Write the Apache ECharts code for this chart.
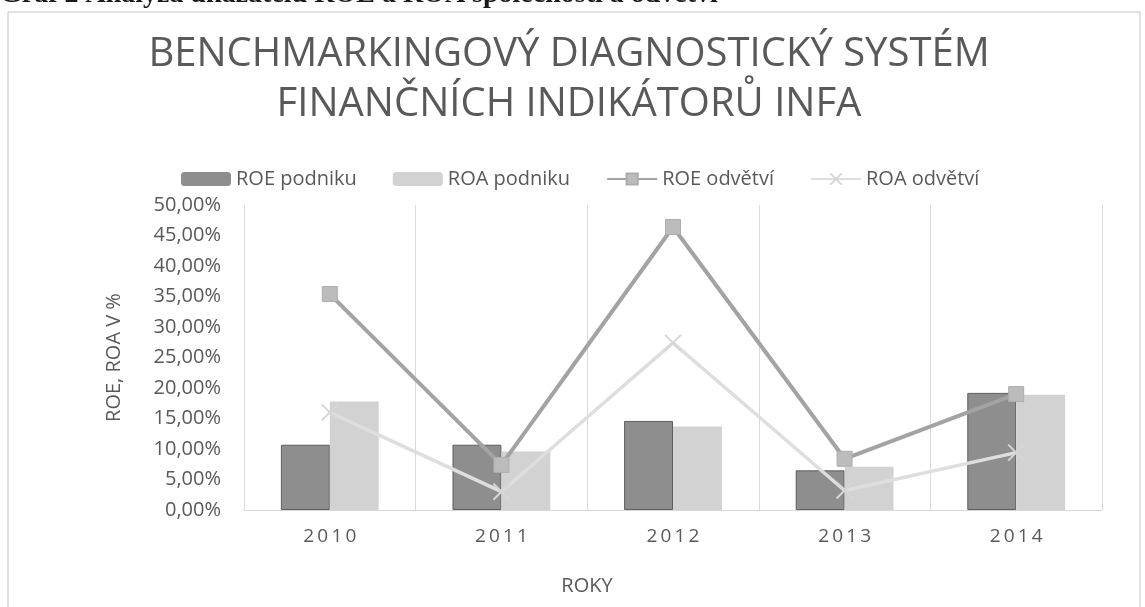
<!DOCTYPE html>
<html>
<head>
<meta charset="utf-8">
<script src="https://cdn.jsdelivr.net/npm/echarts@6/dist/echarts.min.js"></script>
<style>
  html, body { margin: 0; padding: 0; background: #fff; }
  #chart { width: 1145px; height: 607px; }
</style>
</head>
<body>
<div id="chart"></div>
<script>
// data (percent)
var years = ['2010', '2011', '2012', '2013', '2014'];
var roePodniku = [10.7, 10.7, 14.6, 6.5, 19.2];
var roaPodniku = [17.8, 9.6, 13.7, 7.1, 18.9];
var roeOdvetvi = [35.4, 7.4, 46.4, 8.4, 19.0];
var roaOdvetvi = [16.0, 3.0, 27.4, 3.2, 9.4];
var yTicks = { min: 0, max: 50, step: 5 };

var font = 'Open Sans';
var textGray = '#595959';
var gridGray = '#d9d9d9';

var chart = echarts.init(document.getElementById('chart'));

chart.setOption({
  backgroundColor: '#fff',
  animation: false,
  title: {
    text: 'BENCHMARKINGOVÝ DIAGNOSTICKÝ SYSTÉM\nFINANČNÍCH INDIKÁTORŮ INFA',
    left: 564,
    top: 25,
    textAlign: 'center',
    textStyle: {
      fontFamily: font,
      fontSize: 40,
      fontWeight: 'normal',
      color: textGray,
      lineHeight: 50
    }
  },
  legend: {
    top: 164,
    left: 176,
    itemGap: 36,
    itemWidth: 50,
    itemHeight: 14,
    textStyle: { fontFamily: font, fontSize: 20, color: textGray },
    data: [
      { name: 'ROE podniku', itemStyle: { borderWidth: 0 } },
      'ROA podniku',
      'ROE odvětví',
      'ROA odvětví'
    ]
  },
  grid: { left: 244, right: 43, top: 205, bottom: 97 },
  xAxis: {
    type: 'category',
    data: years,
    boundaryGap: true,
    axisTick: { show: false },
    axisLine: { lineStyle: { color: gridGray, width: 1 } },
    splitLine: { show: true, lineStyle: { color: gridGray, width: 1 } },
    axisLabel: {
      margin: 17,
      fontFamily: font,
      fontSize: 19,
      color: textGray,
      formatter: function (v) { return v.split('').join('\u2009'); }
    }
  },
  yAxis: {
    type: 'value',
    min: yTicks.min,
    max: yTicks.max,
    interval: yTicks.step,
    name: 'ROE, ROA V %',
    nameLocation: 'middle',
    nameGap: 120,
    nameTextStyle: { fontFamily: font, fontSize: 20, color: textGray },
    axisLine: { show: false },
    axisTick: { show: false },
    splitLine: { show: false },
    axisLabel: {
      margin: 23,
      fontFamily: font,
      fontSize: 20,
      color: textGray,
      formatter: function (v) { return v.toFixed(2).replace('.', ',') + '%'; }
    }
  },
  graphic: [
    {
      type: 'rect',
      shape: { x: 8, y: 12, width: 1132, height: 620 },
      style: { fill: 'none', stroke: '#c4c4c4', lineWidth: 1 },
      silent: true
    },
    {
      type: 'text',
      x: 0, y: -19,
      style: {
        text: 'Graf 2 Analýza ukazatelů ROE a ROA společnosti a odvětví',
        font: 'bold 28px "Liberation Serif"',
        fill: '#1a1a1a'
      },
      silent: true
    },
    {
      type: 'text',
      x: 587, y: 586,
      style: {
        text: 'ROKY',
        font: '20px "Open Sans"',
        fill: textGray,
        align: 'center',
        verticalAlign: 'middle'
      },
      silent: true
    }
  ],
  series: [
    {
      name: 'ROE podniku',
      type: 'bar',
      data: roePodniku,
      barGap: '0%',
      barCategoryGap: '43%',
      itemStyle: { color: '#8e8e8e', borderColor: '#5e5e5e', borderWidth: 1 }
    },
    {
      name: 'ROA podniku',
      type: 'bar',
      data: roaPodniku,
      itemStyle: { color: '#d2d2d2' }
    },
    {
      name: 'ROE odvětví',
      type: 'line',
      data: roeOdvetvi,
      symbol: 'rect',
      symbolSize: 15,
      z: 5,
      lineStyle: { color: '#a3a3a3', width: 4 },
      itemStyle: { color: '#bcbcbc', borderColor: '#adadad', borderWidth: 1 }
    },
    {
      name: 'ROA odvětví',
      type: 'line',
      data: roaOdvetvi,
      symbol: 'path://M0,0L10,10M10,0L0,10',
      symbolSize: 16,
      z: 6,
      lineStyle: { color: '#dedede', width: 3.5 },
      itemStyle: { color: 'none', borderColor: '#d6d6d6', borderWidth: 2 }
    }
  ]
});
</script>
</body>
</html>
